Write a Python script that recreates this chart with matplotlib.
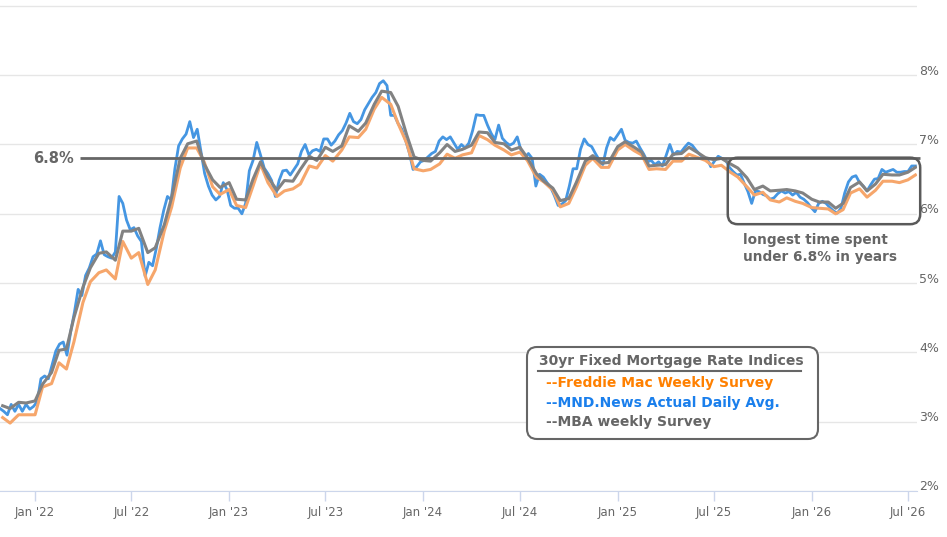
import pandas as pd
import matplotlib
matplotlib.use("Agg")
import matplotlib.pyplot as plt
import matplotlib.dates as mdates
from matplotlib.patches import FancyBboxPatch
from matplotlib.lines import Line2D
from matplotlib.transforms import IdentityTransform, offset_copy, blended_transform_factory

# MND.News daily average, sampled once a week from 2021-10-27
mnd_start = "2021-10-27"
mnd_daily = [
    3.19, 3.15, 3.10, 3.25, 3.15, 3.25, 3.15, 3.25, 3.18, 3.22,
    3.29, 3.62, 3.66, 3.62, 3.82, 4.02, 4.12, 4.15, 3.96, 4.30,
    4.58, 4.91, 4.82, 5.11, 5.22, 5.38, 5.42, 5.61, 5.41, 5.38,
    5.36, 5.45, 6.25, 6.15, 5.91, 5.77, 5.80, 5.68, 5.60, 5.10,
    5.30, 5.25, 5.50, 5.80, 6.05, 6.25, 6.20, 6.65, 6.98, 7.08,
    7.15, 7.33, 7.10, 7.22, 6.90, 6.58, 6.40, 6.27, 6.20, 6.25,
    6.45, 6.35, 6.12, 6.08, 6.08, 6.00, 6.15, 6.62, 6.77, 7.03,
    6.85, 6.66, 6.58, 6.48, 6.25, 6.48, 6.62, 6.63, 6.56, 6.64,
    6.72, 6.90, 7.00, 6.85, 6.91, 6.93, 6.90, 7.08, 7.08, 6.99,
    7.05, 7.14, 7.20, 7.31, 7.45, 7.33, 7.30, 7.36, 7.50, 7.59,
    7.68, 7.75, 7.88, 7.92, 7.85, 7.42, 7.42, 7.30, 7.22, 7.06,
    6.88, 6.64, 6.68, 6.75, 6.77, 6.82, 6.87, 6.90, 7.05, 7.11,
    7.07, 7.11, 7.02, 6.93, 7.00, 6.95, 7.02, 7.20, 7.43, 7.42,
    7.42, 7.28, 7.16, 7.07, 7.28, 7.09, 7.03, 6.99, 7.02, 7.11,
    6.92, 6.81, 6.87, 6.80, 6.40, 6.57, 6.53, 6.45, 6.38, 6.26,
    6.12, 6.14, 6.19, 6.40, 6.65, 6.65, 6.93, 7.08, 7.00, 6.97,
    6.87, 6.78, 6.71, 6.95, 7.10, 7.06, 7.14, 7.22, 7.06, 7.03,
    7.02, 7.05, 6.95, 6.86, 6.75, 6.77, 6.71, 6.75, 6.69, 6.84,
    7.00, 6.85, 6.90, 6.89, 6.96, 7.02, 6.99, 6.92, 6.86, 6.81,
    6.80, 6.68, 6.76, 6.83, 6.80, 6.78, 6.67, 6.61, 6.56, 6.57,
    6.44, 6.32, 6.15, 6.33, 6.32, 6.28, 6.26, 6.21, 6.23, 6.29,
    6.33, 6.30, 6.32, 6.27, 6.31, 6.24, 6.21, 6.16, 6.09, 6.03,
    6.15, 6.18, 6.15, 6.09, 6.04, 6.01, 6.08, 6.30, 6.46, 6.53,
    6.55, 6.45, 6.40, 6.33, 6.42, 6.50, 6.51, 6.64, 6.60, 6.62,
    6.64, 6.60, 6.60, 6.61, 6.61, 6.69, 6.69,
]

# weekly surveys, read on the 1st and 15th of each month
survey_start = "2021-11-01"
survey_end = "2026-07-15"
freddie_mac = [
    3.06, 2.98, 3.10, 3.10, 3.10, 3.50, 3.55, 3.85, 3.76, 4.15,
    4.72, 5.02, 5.15, 5.19, 5.06, 5.60, 5.36, 5.44, 4.98, 5.19,
    5.75, 6.10, 6.66, 6.95, 6.95, 6.75, 6.39, 6.28, 6.35, 6.12,
    6.09, 6.40, 6.72, 6.45, 6.25, 6.33, 6.36, 6.43, 6.69, 6.66,
    6.84, 6.76, 6.92, 7.11, 7.10, 7.22, 7.51, 7.68, 7.58, 7.30,
    7.02, 6.65, 6.62, 6.64, 6.72, 6.86, 6.80, 6.85, 6.88, 7.13,
    7.07, 6.99, 6.92, 6.85, 6.89, 6.77, 6.53, 6.46, 6.34, 6.10,
    6.15, 6.38, 6.70, 6.80, 6.67, 6.67, 6.92, 7.00, 6.91, 6.85,
    6.64, 6.65, 6.64, 6.76, 6.76, 6.86, 6.81, 6.77, 6.68, 6.70,
    6.60, 6.53, 6.39, 6.27, 6.31, 6.20, 6.17, 6.23, 6.18, 6.15,
    6.09, 6.08, 6.07, 6.00, 6.06, 6.30, 6.36, 6.24, 6.34, 6.47,
    6.47, 6.45, 6.49, 6.56,
]
mba_weekly = [
    3.23, 3.19, 3.28, 3.27, 3.30, 3.54, 3.71, 4.03, 4.05, 4.50,
    4.94, 5.22, 5.43, 5.45, 5.33, 5.75, 5.75, 5.79, 5.44, 5.51,
    5.84, 6.24, 6.80, 7.01, 7.05, 6.72, 6.49, 6.38, 6.45, 6.21,
    6.20, 6.50, 6.75, 6.53, 6.34, 6.48, 6.47, 6.64, 6.83, 6.77,
    6.96, 6.90, 6.98, 7.27, 7.19, 7.31, 7.58, 7.77, 7.75, 7.55,
    7.14, 6.82, 6.77, 6.76, 6.88, 7.00, 6.90, 6.93, 6.99, 7.18,
    7.17, 7.03, 7.01, 6.92, 6.96, 6.81, 6.58, 6.47, 6.37, 6.19,
    6.22, 6.45, 6.76, 6.84, 6.73, 6.74, 6.97, 7.04, 6.96, 6.89,
    6.69, 6.70, 6.71, 6.86, 6.87, 6.96, 6.88, 6.81, 6.78, 6.80,
    6.72, 6.66, 6.52, 6.35, 6.40, 6.33, 6.34, 6.35, 6.33, 6.30,
    6.21, 6.17, 6.17, 6.08, 6.15, 6.38, 6.46, 6.33, 6.43, 6.57,
    6.56, 6.56, 6.60, 6.67,
]

threshold = 6.8
y_ticks = [2, 3, 4, 5, 6, 7, 8]
x_tick_dates = ["2022-01-01", "2022-07-01", "2023-01-01", "2023-07-01", "2024-01-01",
                "2024-07-01", "2025-01-01", "2025-07-01", "2026-01-01", "2026-07-01"]
x_tick_labels = ["Jan '22", "Jul '22", "Jan '23", "Jul '23", "Jan '24",
                 "Jul '24", "Jan '25", "Jul '25", "Jan '26", "Jul '26"]

legend_title = "30yr Fixed Mortgage Rate Indices"
legend_labels = ["--Freddie Mac Weekly Survey", "--MND.News Actual Daily Avg.", "--MBA weekly Survey"]
legend_colors = ["#ff8000", "#1a7fec", "#666666"]
note = "longest time spent\nunder 6.8% in years"

W, H = 947, 537
fig = plt.figure(figsize=(W / 100, H / 100), dpi=100)
ax = fig.add_axes([0, 46 / H, 917 / W, 491 / H])

mnd_dates = pd.date_range(mnd_start, periods=len(mnd_daily), freq="7D")
survey_dates = pd.date_range(survey_start, survey_end, freq="SMS")

ax.plot(mnd_dates, mnd_daily, color="#4596e2", lw=2.0, solid_joinstyle="round", zorder=3)
ax.plot(survey_dates, freddie_mac, color="#f6a66b", lw=2.2, solid_joinstyle="round", zorder=4)
ax.plot(survey_dates, mba_weekly, color="#828282", lw=2.2, solid_joinstyle="round", zorder=5)

ax.set_xlim(pd.Timestamp("2021-10-27"), pd.Timestamp("2026-07-18"))
ax.set_ylim(2, 9.085)
ax.set_yticks(range(2, 10))
ax.yaxis.grid(True, color="#e6e6e6", lw=1)
ax.tick_params(axis="y", length=0, labelleft=False)
ax.set_xticks(pd.to_datetime(x_tick_dates))
ax.set_xticklabels(x_tick_labels)
ax.tick_params(axis="x", length=7, width=1, color="#ccd6eb", labelcolor="#666666",
               labelsize=8.5, pad=4)
for s in ["top", "left", "right"]:
    ax.spines[s].set_visible(False)
ax.spines["bottom"].set_color("#ccd6eb")
ax.set_axisbelow(True)

# percent labels sit just right of the plot, above each grid line
ylab_tr = offset_copy(blended_transform_factory(ax.transAxes, ax.transData), x=2, y=4, units="dots")
for v in y_ticks:
    ax.text(1, v, f"{v}%", transform=ylab_tr, ha="left", va="center",
            color="#666666", fontsize=9, clip_on=False)

# 6.8% reference line
line_start = pd.Timestamp("2022-03-27")
ax.hlines(threshold, line_start, pd.Timestamp("2026-07-24"), color="#666666", lw=2,
          zorder=6, clip_on=False)
ax.text(mdates.date2num(line_start), threshold, "6.8%",
        transform=offset_copy(ax.transData, x=-6, y=0, units="dots"),
        ha="right", va="center", color="#666666", fontsize=10.5, fontweight="bold")


def rounded_box(p0, p1, trans, **kw):
    (x0, y0), (x1, y1) = trans.transform([p0, p1])
    box = FancyBboxPatch((x0, y0), x1 - x0, y1 - y0,
                         boxstyle="round,pad=0,rounding_size=10",
                         transform=IdentityTransform(), **kw)
    fig.add_artist(box)


# box around the stretch below 6.8%
rounded_box((mdates.date2num(pd.Timestamp("2025-07-27")), 5.85),
            (mdates.date2num(pd.Timestamp("2026-07-24")), 6.81),
            ax.transData, facecolor="none", edgecolor="#5a5a5a", lw=1.8, zorder=2)
fig.text(743 / W, 1 - 248.5 / H, note, ha="left", va="center", color="#666666",
         fontsize=9.8, fontweight="bold", linespacing=1.3)

# legend panel
rounded_box((527, H - 439), (818, H - 347), IdentityTransform(),
            facecolor="white", edgecolor="#666666", lw=1.5, zorder=2)
fig.text(671 / W, 1 - 361 / H, legend_title, ha="center", va="center",
         color="#666666", fontsize=10, fontweight="bold", zorder=3)
fig.add_artist(Line2D([538 / W, 801 / W], [1 - 371 / H] * 2, transform=fig.transFigure,
                      color="#666666", lw=1.5, zorder=3))
for i, (lab, col) in enumerate(zip(legend_labels, legend_colors)):
    fig.text(546 / W, 1 - (383 + 19.5 * i) / H, lab, ha="left", va="center",
             color=col, fontsize=10, fontweight="bold", zorder=3)

fig.savefig("out.png", dpi=100)
